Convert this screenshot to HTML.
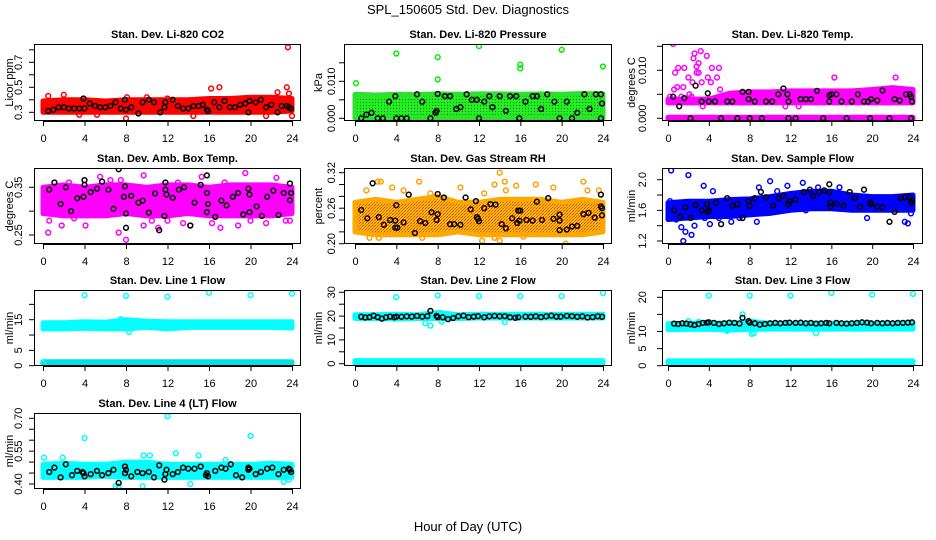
<!DOCTYPE html>
<html><head><meta charset="utf-8"><title>SPL_150605 Std. Dev. Diagnostics</title>
<style>
html,body{margin:0;padding:0;background:#fff;}
svg{display:block;font-family:"Liberation Sans",sans-serif;}
</style></head>
<body>
<svg id="chart" width="936" height="540" viewBox="0 0 936 540" xmlns="http://www.w3.org/2000/svg">
<defs>
<pattern id="patGreen" width="3" height="3" patternUnits="userSpaceOnUse"><rect width="3" height="3" fill="#20f020"/><rect width="1" height="1" fill="#0a6a0a"/></pattern>
<pattern id="patOrange" width="3" height="3" patternUnits="userSpaceOnUse"><rect width="3" height="3" fill="#ffcc00"/><rect width="1" height="1" fill="#ff2000"/><rect x="2" y="1" width="1" height="1" fill="#ff2000"/><rect x="1" y="2" width="1" height="1" fill="#ff6000"/></pattern>
<pattern id="patCyanBlack" width="4" height="3" patternUnits="userSpaceOnUse"><rect width="4" height="3" fill="#00ffff"/><rect width="1" height="1" fill="#000"/><rect x="2" y="2" width="1" height="1" fill="#000"/></pattern>
</defs>
<text x="468" y="14" text-anchor="middle" font-size="13">SPL_150605  Std. Dev. Diagnostics</text>
<text x="468" y="531" text-anchor="middle" font-size="13">Hour of Day (UTC)</text>
</svg>
<script>
// ---------- shared data ----------
const bandHours = [0,2,4,6,8,10,12,14,16,18,20,22,24];
const xTicks = [0,4,8,12,16,20,24];
const rowHours = [0.6,1.0,1.4,1.8,2.2,2.6,3.0,3.4,3.8,4.0,4.5,5.0,5.5,6.0,6.5,7.0,7.3,7.9,8.0,8.5,9.0,9.5,10.0,10.5,11.0,11.5,11.9,12.5,13.0,13.5,14.0,14.5,15.0,15.5,15.8,16.5,17.0,17.5,18.0,18.5,19.0,19.5,19.9,20.5,21.0,21.5,22.0,22.5,23.0,23.5,23.9];

// P1 CO2
const co2BandLo = [0.30,0.30,0.30,0.30,0.30,0.30,0.30,0.30,0.30,0.30,0.30,0.30,0.31];
const co2BandHi = [0.39,0.40,0.40,0.39,0.40,0.40,0.40,0.40,0.41,0.41,0.42,0.42,0.41];
const co2Out = [[0.2,0.31],[0.5,0.43],[2,0.44],[3.5,0.28],[5.2,0.28],[8,0.25],[8.1,0.42],[10,0.42],[12,0.41],[14.5,0.27],[16.2,0.49],[17,0.5],[21.5,0.27],[22.6,0.46],[23.5,0.5],[23.6,0.82],[23.7,0.45],[24,0.27]];
const co2Black = [[0.5,0.31],[1.0,0.32],[1.5,0.34],[2,0.34],[2.5,0.33],[3,0.33],[3.5,0.33],[3.9,0.41],[4,0.33],[4.5,0.37],[5,0.35],[5.5,0.34],[6,0.34],[6.5,0.35],[7,0.38],[7.5,0.33],[7.9,0.40],[8,0.32],[8.5,0.34],[9.2,0.29],[9.6,0.38],[10.2,0.40],[10.7,0.38],[11.3,0.30],[11.7,0.34],[11.8,0.38],[12.5,0.40],[13,0.35],[13.5,0.33],[14,0.33],[14.5,0.35],[15,0.35],[15.4,0.36],[15.8,0.32],[15.9,0.31],[16.5,0.38],[17,0.34],[17.5,0.39],[18,0.34],[18.5,0.34],[19,0.36],[19.5,0.37],[19.8,0.30],[19.9,0.39],[20.5,0.38],[21,0.40],[21.5,0.34],[22,0.36],[22.6,0.30],[23,0.35],[23.5,0.35],[23.7,0.34],[23.9,0.33]];

// P2 Pressure
const presBandLo = [0,0,0,0,0,0,0,0,0,0,0,0,0];
const presBandHi = [0.0065,0.0063,0.0065,0.0064,0.0066,0.0065,0.0066,0.0066,0.0065,0.0066,0.0065,0.0067,0.0066];
const presOut = [[0.1,0.0095],[4,0.0175],[8,0.0165],[8,0.0105],[12,0.0195],[16,0.0145],[16,0.0135],[20,0.0185],[24,0.014]];
const presBlack = [[0.6,0],[1.1,0.001],[1.6,0.0015],[2.2,0],[2.7,0],[3.3,0.0045],[3.9,0.006],[4,0],[4.5,0],[5,0],[6,0.0065],[6.5,0.0045],[7.3,0],[7.8,0.0015],[7.9,0.002],[8,0.0066],[8.7,0.006],[9.2,0.006],[9.8,0.0025],[10.2,0.003],[10.8,0.0065],[11.3,0.005],[11.8,0.005],[12,0],[12.5,0.0045],[13,0.006],[13.3,0.003],[14,0.006],[14.6,0.002],[15,0.006],[15.6,0.006],[15.9,0],[16.5,0.0045],[17.2,0.006],[17.6,0.006],[18,0.0025],[18.6,0.0065],[19.3,0.0045],[19.8,0],[20.5,0.0045],[21,0],[21.5,0.0015],[22.2,0.0065],[22.7,0.0025],[23.3,0.0065],[23.8,0.0065],[23.9,0.004],[23.8,0]];

// P3 Li-820 Temp
const tempBandLo = [0.0032,0.0032,0.0032,0.0032,0.0032,0.0032,0.0032,0.0032,0.0032,0.0032,0.0032,0.0032,0.0032];
const tempBandHi = [0.0040,0.0040,0.0040,0.0052,0.0055,0.0055,0.0057,0.0057,0.0057,0.0057,0.0060,0.0064,0.0060];
const tempZeroLo = [-0.0003,-0.0003,-0.0003,-0.0003,-0.0003,-0.0003,-0.0003,-0.0003,-0.0003,-0.0003,-0.0003,-0.0003,-0.0003];
const tempZeroHi = [0.0002,0.0002,0.0002,0.0002,0.0002,0.0002,0.0002,0.0002,0.0002,0.0002,0.0002,0.0002,0.0002];
const tempOut = [[0.2,0.0045],[0.5,0.0155],[0.6,0.006],[0.7,0.0095],[0.9,0.0065],[1.0,0.0105],[1.2,0.018],[1.3,0.0045],[1.5,0.0065],[1.6,0.0105],[1.8,0.0175],[2,0.0085],[2.1,0.005],[2.3,0.0045],[2.4,0.0075],[2.5,0.0125],[2.6,0.0135],[2.7,0.0185],[2.8,0.0095],[2.8,0.0108],[2.9,0.016],[3,0.0115],[3.0,0.0095],[3.1,0.0185],[3.2,0.014],[3.3,0.0075],[3.4,0.0025],[3.8,0.013],[3.9,0.0085],[4.2,0.0075],[4.3,0.0105],[4.5,0.016],[4.8,0.0085],[5,0.0105],[5,0.016],[5.1,0.006],[11.5,0.0025],[12.8,0.0025],[16.3,0.0085],[22.3,0.0085]];
const tempBlack = [[0.5,0.0045],[1.1,0.0025],[1.6,0.0042],[2.2,0],[2.7,0.0068],[3.3,0.0035],[3.9,0.0052],[4,0.0035],[4.6,0.0035],[5.2,0],[5.8,0.0035],[6.3,0.0035],[6.8,0],[7.3,0.0055],[7.9,0.0055],[7.9,0.004],[8,0],[8.5,0.0035],[9.2,0],[9.6,0.0035],[10.2,0.0035],[10.8,0.005],[11.3,0.0062],[11.7,0.005],[11.8,0.0035],[11.8,0],[12.5,0],[13,0.004],[13.5,0.004],[14,0.004],[14.6,0.0057],[15.2,0],[15.8,0.0035],[15.8,0.0048],[16,0.005],[16.5,0.005],[17,0.0035],[17.5,0],[18,0.0035],[18.6,0.005],[19.2,0.0035],[19.6,0.0035],[19.8,0],[19.9,0.004],[20.5,0.0037],[21,0.0058],[21.7,0],[22.2,0.004],[22.7,0.0037],[23.3,0.005],[23.7,0.005],[23.8,0.0045],[23.9,0.0035],[23.8,0]];

// P4 Amb Box Temp
const ambBandLo = [0.295,0.29,0.29,0.29,0.295,0.29,0.29,0.295,0.29,0.29,0.29,0.29,0.295];
const ambBandHi = [0.35,0.355,0.35,0.355,0.355,0.35,0.355,0.355,0.35,0.355,0.355,0.355,0.35];
const ambOut = [[0.5,0.255],[0.6,0.28],[1.0,0.35],[1.8,0.27],[2.5,0.36],[4.1,0.27],[5.5,0.372],[6.5,0.365],[7.3,0.255],[7.5,0.365],[8,0.24],[9.7,0.27],[9.7,0.375],[11.1,0.265],[12,0.28],[13.5,0.275],[14.2,0.27],[15.3,0.372],[16.3,0.275],[17.1,0.265],[18.8,0.27],[19.5,0.38],[21.5,0.275],[22.5,0.37],[23.4,0.28],[23.8,0.28],[3,0.285],[10.5,0.28],[20,0.28],[5,0.295],[13,0.36],[17.5,0.36]];
const ambBlack = [[0.6,0.345],[1.1,0.36],[1.7,0.315],[2.2,0.35],[2.7,0.30],[3.3,0.327],[3.9,0.33],[4,0.355],[4,0.365],[4.6,0.34],[5.2,0.347],[5.7,0.362],[6.3,0.345],[6.8,0.305],[7.3,0.388],[7.8,0.33],[7.9,0.352],[8,0.295],[8,0.265],[8.5,0.332],[9.2,0.318],[9.6,0.322],[10.2,0.297],[10.8,0.337],[11.2,0.26],[11.7,0.29],[11.8,0.36],[11.8,0.345],[11.9,0.335],[12.5,0.328],[13.1,0.345],[13.6,0.35],[14.2,0.27],[14.6,0.318],[15.2,0.355],[15.8,0.375],[15.8,0.338],[15.9,0.315],[15.8,0.298],[16.6,0.288],[17.2,0.322],[17.7,0.312],[18.3,0.33],[18.8,0.338],[19.3,0.293],[19.8,0.347],[19.9,0.335],[19.9,0.298],[20.6,0.31],[21.1,0.29],[21.6,0.33],[22.2,0.343],[22.7,0.292],[23.2,0.338],[23.8,0.358],[23.9,0.338],[23.8,0.323]];

// P5 Gas Stream RH
const rhBandLo = [0.22,0.215,0.215,0.215,0.215,0.22,0.215,0.215,0.215,0.215,0.215,0.215,0.22];
const rhBandHi = [0.27,0.275,0.27,0.275,0.28,0.27,0.27,0.275,0.275,0.275,0.27,0.275,0.27];
const rhOut = [[1.1,0.29],[1.4,0.21],[2.2,0.305],[2.3,0.21],[2.5,0.305],[3.6,0.295],[4.7,0.29],[6.2,0.305],[6.5,0.21],[7.3,0.285],[10.2,0.295],[12.3,0.205],[12.5,0.285],[13.5,0.30],[13.5,0.21],[14,0.32],[14,0.205],[14.5,0.305],[14.6,0.29],[15.6,0.298],[16.3,0.212],[17.5,0.30],[19.2,0.295],[20.4,0.2],[22.1,0.305],[22.5,0.29],[23.6,0.29]];
const rhBlack = [[0.6,0.257],[1.2,0.243],[1.7,0.302],[2.3,0.245],[2.8,0.232],[3.4,0.24],[3.9,0.239],[3.9,0.227],[4,0.265],[4.1,0.227],[4.7,0.236],[5.2,0.283],[5.8,0.218],[6.3,0.238],[6.8,0.235],[7.4,0.253],[7.9,0.24],[8,0.284],[8,0.25],[8.6,0.278],[9.2,0.233],[9.6,0.233],[10.2,0.232],[10.7,0.278],[11.2,0.258],[11.7,0.272],[11.8,0.245],[11.9,0.242],[12.0,0.238],[12.5,0.26],[13.1,0.267],[13.6,0.266],[14.2,0.233],[14.6,0.226],[15.2,0.243],[15.7,0.235],[15.8,0.256],[15.9,0.239],[16,0.256],[16.6,0.24],[17.2,0.239],[17.6,0.271],[18.1,0.24],[18.7,0.277],[19.2,0.242],[19.8,0.239],[19.8,0.249],[19.8,0.223],[20.5,0.224],[21,0.229],[21.5,0.23],[22.1,0.25],[22.6,0.252],[23.2,0.244],[23.8,0.263],[23.8,0.283],[23.9,0.248],[23.9,0.26]];

// P6 Sample Flow
const sfBandLo = [1.48,1.5,1.52,1.52,1.54,1.56,1.6,1.62,1.62,1.6,1.6,1.6,1.6];
const sfBandHi = [1.70,1.72,1.72,1.74,1.75,1.78,1.82,1.85,1.85,1.80,1.78,1.78,1.80];
const sfOut = [[0.1,1.58],[0.2,1.72],[0.3,2.12],[0.8,1.48],[1.3,1.38],[1.5,1.2],[1.7,1.32],[2,2.06],[2.3,1.28],[2.6,1.4],[2.9,1.52],[3.5,1.92],[3.6,1.5],[4.1,1.42],[4.4,1.85],[5,1.5],[6.2,1.45],[7,1.5],[8.7,1.45],[8.9,1.9],[10,1.98],[10.7,1.85],[11.7,1.92],[13.2,1.96],[13.5,1.6],[14.7,1.9],[16.8,1.9],[19.5,1.5],[23.2,1.45],[23.5,1.43],[23.8,1.56]];
const sfBlack = [[0.6,1.6],[1.2,1.52],[1.7,1.64],[2.2,1.5],[2.7,1.67],[3.3,1.6],[3.8,1.68],[3.9,1.58],[4,1.6],[4.7,1.7],[5.2,1.42],[5.8,1.76],[6.3,1.66],[6.8,1.68],[7.3,1.5],[7.9,1.72],[8,1.66],[8.5,1.76],[9.1,1.84],[9.6,1.77],[10.3,1.66],[10.8,1.76],[11.3,1.79],[11.8,1.68],[11.9,1.72],[12.5,1.74],[13.3,1.84],[13.9,1.87],[14.2,1.79],[14.8,1.84],[15.3,1.86],[15.8,1.94],[15.8,1.84],[15.9,1.7],[15.9,1.65],[16.5,1.69],[17.2,1.66],[17.8,1.84],[18.3,1.76],[18.8,1.65],[19.2,1.87],[19.8,1.7],[19.9,1.68],[20.5,1.65],[21.0,1.64],[21.7,1.45],[22.2,1.58],[22.8,1.76],[23.2,1.77],[23.7,1.77],[23.8,1.7],[23.9,1.73]];

// P7 Line 1 Flow
const l1BandLo = [12,12,12.2,12,12,12.5,12,12.5,12.5,12.5,12.5,12.5,12.3];
const l1BandHi = [14,14,14.3,14.2,15,14.5,14.3,14.3,14.3,14.3,14.3,14.3,14.3];
const l1RowLo = [0.2,0.2,0.2,0.2,0.2,0.2,0.2,0.2,0.2,0.2,0.2,0.2,0.2];
const l1RowHi = [1.3,1.3,1.3,1.3,1.3,1.3,1.3,1.3,1.3,1.3,1.3,1.3,1.3];
const l1Out = [[0,0.8],[4,23],[7.5,15.2],[8,22.8],[8.3,11],[12,22.5],[16,23.8],[20,23],[24,23.5]];

// P8 Line 2 Flow
const l2BandLo = [19,19,18.8,19,19,19,19.2,19.2,19.2,19.2,19.2,19.2,19.2];
const l2BandHi = [20.6,20.6,20.8,20.6,21.5,20.6,20.8,20.8,20.8,20.8,20.8,20.8,20.8];
const l2RowLo = [0,0,0,0,0,0,0,0,0,0,0,0,0];
const l2RowHi = [1.3,1.3,1.3,1.3,1.3,1.3,1.3,1.3,1.3,1.3,1.3,1.3,1.3];
const l2Out = [[4,28],[6.8,17],[7.3,16],[8,28.7],[8.3,21.3],[8.4,17.7],[12,28.4],[14.5,17.5],[16,28.4],[20,28.4],[24,29.7]];
const l2BlackY = [19.7,19.4,19.6,20.2,19.6,18.9,19.5,19.8,19.5,19.8,19.7,19.9,19.8,20.1,19.8,20.0,22.2,20.1,19.6,19.5,18.7,19.2,19.9,20.2,19.6,19.8,20.0,19.5,19.9,20.1,19.9,20.0,19.5,19.3,19.5,19.8,19.7,19.9,19.6,19.9,20.2,19.8,19.8,20.1,20.0,19.7,19.9,19.4,19.6,19.9,19.7];

// P9 Line 3 Flow
const l3BandLo = [10.5,10.6,10.6,10.4,10.6,10.7,10.7,10.7,10.7,10.7,10.7,10.7,10.7];
const l3BandHi = [12.3,12.4,12.5,12.4,13.0,12.4,12.3,12.4,12.4,12.4,12.4,12.4,12.5];
const l3RowLo = [0,0,0,0,0,0,0,0,0,0,0,0,0];
const l3RowHi = [1.4,1.4,1.4,1.4,1.4,1.4,1.4,1.4,1.4,1.4,1.4,1.4,1.4];
const l3Out = [[2,13],[3,12.8],[4,20.5],[5.8,10.2],[7.3,15],[8,20.5],[8.2,9.3],[8.4,9.5],[12,20.5],[14.5,9.5],[16,21.3],[20,20.8],[24,21]];
const l3BlackY = [12.3,12.2,12.4,12.3,12.1,11.9,12.2,12.5,12.6,12.7,12.5,12.2,12.4,12.6,12.5,12.3,14.0,13.0,12.6,12.4,12.0,12.2,12.4,12.5,12.4,12.5,12.6,12.5,12.6,12.4,12.5,12.3,12.4,12.5,12.4,12.5,12.4,12.3,12.4,12.5,12.7,12.6,12.4,12.5,12.4,12.5,12.4,12.5,12.5,12.6,12.7];

// P10 Line 4 (LT) Flow
const l4BandLo = [0.43,0.43,0.43,0.435,0.43,0.43,0.43,0.43,0.43,0.43,0.43,0.43,0.43];
const l4BandHi = [0.49,0.495,0.49,0.49,0.5,0.5,0.49,0.49,0.49,0.49,0.49,0.495,0.49];
const l4Out = [[0.1,0.52],[1.9,0.52],[4,0.61],[7,0.39],[7.3,0.39],[9.6,0.39],[9.7,0.53],[10.3,0.53],[12,0.71],[12.8,0.54],[14.2,0.40],[15,0.53],[17.6,0.51],[20,0.62],[23.2,0.41],[23.7,0.42]];
const l4Black = [[0.6,0.455],[1.1,0.475],[1.7,0.43],[2.2,0.49],[2.8,0.44],[3.3,0.46],[3.8,0.455],[3.9,0.45],[4,0.435],[4.6,0.445],[5.2,0.46],[5.7,0.44],[6.3,0.45],[6.8,0.465],[7.3,0.405],[7.9,0.45],[7.9,0.48],[8,0.465],[8.5,0.435],[9.1,0.455],[9.6,0.45],[10.2,0.455],[10.7,0.43],[11.2,0.485],[11.7,0.42],[11.8,0.445],[11.9,0.465],[12.5,0.445],[13,0.455],[13.5,0.475],[14,0.47],[14.6,0.47],[15.2,0.48],[15.7,0.44],[15.8,0.45],[15.9,0.435],[16.6,0.46],[17.2,0.475],[17.6,0.47],[18.1,0.49],[18.6,0.44],[19.2,0.43],[19.8,0.465],[19.8,0.475],[19.9,0.47],[20.5,0.445],[21.0,0.455],[21.6,0.47],[22.1,0.475],[22.7,0.445],[23.2,0.465],[23.7,0.47],[23.8,0.465],[23.9,0.455]];

// ---------- rendering ----------
const NS = "http://www.w3.org/2000/svg";
const svg = document.getElementById('chart');
const COLS = [{l:34,r:301,x0:43,x24:292,tl:19,yl:10},{l:344,r:612,x0:355,x24:603,tl:332,yl:319},{l:662,r:923,x0:668,x24:913,tl:643,yl:632}];
const ROWS = [{t:44,b:121},{t:168,b:244},{t:290,b:366},{t:413,b:489}];

function mk(tag, attrs, parent){
  const e = document.createElementNS(NS, tag);
  for (const k in attrs) e.setAttribute(k, attrs[k]);
  (parent||svg).appendChild(e);
  return e;
}
function pairsFrom(xs, ys){ return xs.map((x,i)=>[x, ys[i]]); }

function drawPanel(p){
  const c = COLS[p.col], r = ROWS[p.row];
  const g = mk('g', {});
  
  
  const sx = h => c.x0 + (h/24)*(c.x24 - c.x0);
  const sy = v => p.p1 + (v - p.v1)*(p.p2 - p.p1)/(p.v2 - p.v1);
  const clip = 'clip-' + p.name;
  const cp = mk('clipPath', {id: clip}, g);
  mk('rect', {x:c.l, y:r.t, width:c.r-c.l, height:r.b-r.t}, cp);
  const plot = mk('g', {'clip-path':'url(#'+clip+')'}, g);
  
  
  (p.bands||[]).forEach((b, bi) => {
    let pts = bandHours.map((h,i)=> sx(h).toFixed(1)+','+sy(b.hi[i]).toFixed(1));
    pts = pts.concat(bandHours.slice().reverse().map((h,j)=>{ const i = bandHours.length-1-j; return sx(h).toFixed(1)+','+sy(b.lo[i]).toFixed(1); }));
    const poly = mk('polygon', {points: pts.join(' '), fill: b.fill, stroke: b.stroke||b.fill, 'stroke-width': 5, 'stroke-linejoin':'round'}, plot);
    
    
  });
  (p.pts||[]).forEach(d => {
    const ci = mk('circle', {cx: sx(d[0]).toFixed(1), cy: sy(d[1]).toFixed(1), r: 2.4, fill:'none', stroke: p.color, 'stroke-width': 1.5}, plot);
    
    
  });
  (p.black||[]).forEach(d => {
    const ci = mk('circle', {cx: sx(d[0]).toFixed(1), cy: sy(d[1]).toFixed(1), r: 2.4, fill:'none', stroke:'#000', 'stroke-width': 1.5}, plot);
    
    
  });
  const box = mk('rect', {x:c.l+0.5, y:r.t+0.5, width:c.r-c.l-1, height:r.b-r.t-1, fill:'none', stroke:'#000', 'stroke-width':1}, g);
  
  
  const tt = mk('text', {x:(c.l+c.r)/2, y:r.t-6, 'text-anchor':'middle', 'font-size':11, 'font-weight':'bold'}, g);
  tt.textContent = p.title;
  
  
  const ax = mk('g', {}, g);
  
  
  mk('line', {x1:sx(0), x2:sx(24), y1:r.b+0.5, y2:r.b+0.5, stroke:'#000'}, ax);
  xTicks.forEach(h => {
    mk('line', {x1:sx(h)+0.5, x2:sx(h)+0.5, y1:r.b, y2:r.b+5, stroke:'#000'}, ax);
    const t = mk('text', {x:sx(h)+0.5, y:r.b+21, 'text-anchor':'middle', 'font-size':11}, ax);
    t.textContent = String(h);
    
    
  });
  const ay = mk('g', {}, g);
  
  
  mk('line', {x1:c.l+0.5, x2:c.l+0.5, y1:sy(p.yTicks[0]), y2:sy(p.yTicks[p.yTicks.length-1]), stroke:'#000'}, ay);
  p.yTicks.forEach(v => {
    mk('line', {x1:c.l-5, x2:c.l, y1:sy(v), y2:sy(v), stroke:'#000'}, ay);
  });
  p.yLabels.forEach((lab, i) => {
    const y = sy(p.yLabelVals[i]);
    const t = mk('text', {x:c.tl, y:y, 'text-anchor':'middle', 'font-size':11, transform:'rotate(-90 '+c.tl+' '+y+')', 'dominant-baseline':'middle'}, ay);
    t.textContent = lab;
    
    
  });
  const ym = (r.t + r.b)/2;
  const yt = mk('text', {x:c.yl, y:ym, 'text-anchor':'middle', 'font-size':11, transform:'rotate(-90 '+c.yl+' '+ym+')', 'dominant-baseline':'middle'}, g);
  yt.textContent = p.ylab;
  
  
}

const panels = [
  {name:'co2', col:0,row:0,title:'Stan. Dev. Li-820 CO2', ylab:'Licor ppm', v1:0.3,p1:112.3,v2:0.7,p2:62.3, yTicks:[0.3,0.4,0.5,0.6,0.7,0.8], yLabels:['0.3','0.5','0.7'], yLabelVals:[0.3,0.5,0.7], color:'#ff0000', bands:[{lo:co2BandLo,hi:co2BandHi,fill:'#ff0000'}], pts:co2Out, black:co2Black},
  {name:'pressure', col:1,row:0,title:'Stan. Dev. Li-820 Pressure', ylab:'kPa', v1:0,p1:118.3,v2:0.010,p2:81.3, yTicks:[0,0.005,0.010,0.015], yLabels:['0.000','0.010'], yLabelVals:[0,0.010], color:'#00ee00', bands:[{lo:presBandLo,hi:presBandHi,fill:'url(#patGreen)',stroke:'#30e030'}], pts:presOut, black:presBlack},
  {name:'li820-temp', col:2,row:0,title:'Stan. Dev. Li-820 Temp.', ylab:'degrees C', v1:0,p1:118.3,v2:0.010,p2:70.3, yTicks:[0,0.005,0.010,0.015], yLabels:['0.000','0.010'], yLabelVals:[0,0.010], color:'#ff00ff', bands:[{lo:tempBandLo,hi:tempBandHi,fill:'#ff00ff'},{lo:tempZeroLo,hi:tempZeroHi,fill:'#ff00ff'}], pts:tempOut, black:tempBlack},
  {name:'amb-box-temp', col:0,row:1,title:'Stan. Dev. Amb. Box Temp.', ylab:'degrees C', v1:0.25,p1:235,v2:0.35,p2:187.3, yTicks:[0.25,0.30,0.35], yLabels:['0.25','0.35'], yLabelVals:[0.25,0.35], color:'#ff00ff', bands:[{lo:ambBandLo,hi:ambBandHi,fill:'#ff00ff'}], pts:ambOut, black:ambBlack},
  {name:'gas-stream-rh', col:1,row:1,title:'Stan. Dev. Gas Stream RH', ylab:'percent', v1:0.20,p1:243.7,v2:0.32,p2:172.7, yTicks:[0.20,0.22,0.24,0.26,0.28,0.30,0.32], yLabels:['0.20','0.26','0.32'], yLabelVals:[0.20,0.26,0.32], color:'#ffa000', bands:[{lo:rhBandLo,hi:rhBandHi,fill:'url(#patOrange)',stroke:'#ffa800'}], pts:rhOut, black:rhBlack},
  {name:'sample-flow', col:2,row:1,title:'Stan. Dev. Sample Flow', ylab:'ml/min', v1:1.2,p1:241,v2:2.0,p2:179.7, yTicks:[1.2,1.4,1.6,1.8,2.0], yLabels:['1.2','1.6','2.0'], yLabelVals:[1.2,1.6,2.0], color:'#0000ff', bands:[{lo:sfBandLo,hi:sfBandHi,fill:'#0000ff'}], pts:sfOut, black:sfBlack},
  {name:'line1-flow', col:0,row:2,title:'Stan. Dev. Line 1 Flow', ylab:'ml/min', v1:0,p1:365.7,v2:15,p2:319.7, yTicks:[0,5,10,15,20], yLabels:['0','5','15'], yLabelVals:[0,5,15], color:'#00ffff', bands:[{lo:l1BandLo,hi:l1BandHi,fill:'#00ffff'},{lo:l1RowLo,hi:l1RowHi,fill:'url(#patCyanBlack)',stroke:'#00e0e0'}], pts:l1Out, black:[]},
  {name:'line2-flow', col:1,row:2,title:'Stan. Dev. Line 2 Flow', ylab:'ml/min', v1:0,p1:363.7,v2:30,p2:292.3, yTicks:[0,5,10,15,20,25,30], yLabels:['0','10','20','30'], yLabelVals:[0,10,20,30], color:'#00ffff', bands:[{lo:l2BandLo,hi:l2BandHi,fill:'#00ffff'},{lo:l2RowLo,hi:l2RowHi,fill:'#00ffff'}], pts:l2Out, black:pairsFrom(rowHours,l2BlackY)},
  {name:'line3-flow', col:2,row:2,title:'Stan. Dev. Line 3 Flow', ylab:'ml/min', v1:0,p1:365.7,v2:20,p2:297.3, yTicks:[0,5,10,15,20], yLabels:['0','5','10','20'], yLabelVals:[0,5,10,20], color:'#00ffff', bands:[{lo:l3BandLo,hi:l3BandHi,fill:'#00ffff'},{lo:l3RowLo,hi:l3RowHi,fill:'#00ffff'}], pts:l3Out, black:pairsFrom(rowHours,l3BlackY)},
  {name:'line4-lt-flow', col:0,row:3,title:'Stan. Dev. Line 4 (LT) Flow', ylab:'ml/min', v1:0.40,p1:484,v2:0.70,p2:418.3, yTicks:[0.40,0.45,0.50,0.55,0.60,0.65,0.70], yLabels:['0.40','0.55','0.70'], yLabelVals:[0.40,0.55,0.70], color:'#00ffff', bands:[{lo:l4BandLo,hi:l4BandHi,fill:'#00ffff'}], pts:l4Out, black:l4Black}
];
panels.forEach(drawPanel);
</script>
</body></html>
